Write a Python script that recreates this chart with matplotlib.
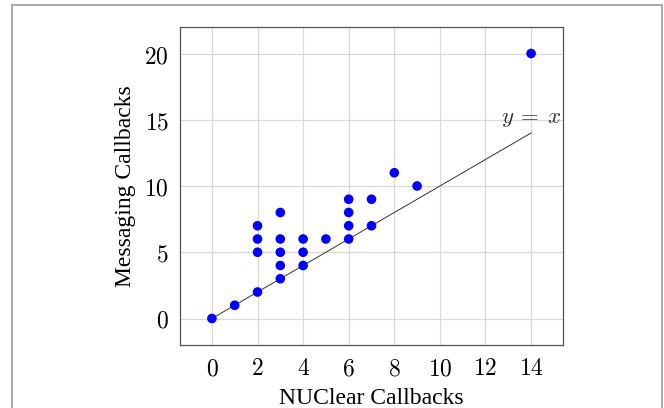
import matplotlib
matplotlib.use("Agg")
import matplotlib.pyplot as plt
from matplotlib.patches import Rectangle

nuclear = [0, 1, 2, 2, 2, 2, 3, 3, 3, 3, 3, 4, 4, 4, 5, 6, 6, 6, 6, 7, 7, 8, 9, 14]
messaging = [0, 1, 2, 5, 6, 7, 3, 4, 5, 6, 8, 4, 5, 6, 6, 6, 7, 8, 9, 7, 9, 11, 10, 20]
ref_line = [0, 14]
x_ticks = [0, 2, 4, 6, 8, 10, 12, 14]
y_ticks = [0, 5, 10, 15, 20]

plt.rcParams["mathtext.fontset"] = "cm"
plt.rcParams["axes.formatter.use_mathtext"] = True

fig = plt.figure(figsize=(6.64, 4.08), dpi=100)
ax = fig.add_axes([180 / 664, 1 - 345 / 408, (563 - 180) / 664, (345 - 27) / 408])

ax.plot(ref_line, ref_line, color="#333333", linewidth=0.7, zorder=2)
ax.scatter(nuclear, messaging, s=48, color="#0000ff", edgecolors="none", zorder=3)
ax.annotate(r"$y\:=\:x$", xy=(ref_line[1], ref_line[1]), xytext=(0, 3),
            textcoords="offset points", ha="center", va="bottom",
            fontsize=16.5, color="#333333")

ax.set_xlim(-1.4, 15.4)
ax.set_ylim(-2, 22)
ax.set_xticks(x_ticks)
ax.set_yticks(y_ticks)
ax.set_xticklabels([f"${t}$" for t in x_ticks])
ax.set_yticklabels([f"${t}$" for t in y_ticks])
ax.tick_params(length=0, labelsize=17, pad=8)
ax.grid(True, color="#d8d8d8", linewidth=0.9)
ax.set_axisbelow(True)
for sp in ax.spines.values():
    sp.set_color("#555555")
    sp.set_linewidth(0.9)

ax.set_xlabel("NUClear Callbacks", family="Liberation Serif", fontsize=17, labelpad=6)
ax.set_ylabel("Messaging Callbacks", family="Liberation Serif", fontsize=17, labelpad=6)

fig.patches.append(Rectangle((11.5 / 664, -0.1), (661.5 - 11.5) / 664, 1.1 - 5.5 / 408,
                             transform=fig.transFigure, fill=False,
                             edgecolor="#9a9a9a", linewidth=1.2, clip_on=False))

fig.savefig("out.png", dpi=100)
